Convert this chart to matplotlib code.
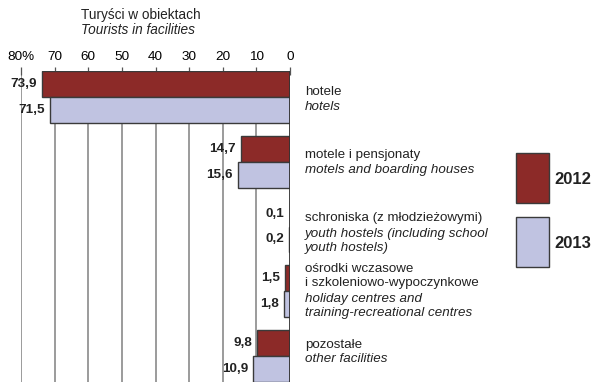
import matplotlib
matplotlib.use("Agg")
import matplotlib.pyplot as plt
import matplotlib.patches as mpatches
import numpy as np

plt.rcParams['font.family'] = ['Liberation Sans', 'DejaVu Sans']

categories_pl = [
    ["hotele"],
    ["motele i pensjonaty"],
    ["schroniska (z młodzieżowymi)"],
    ["ośrodki wczasowe", "i szkoleniowo-wypoczynkowe"],
    ["pozostałe"],
]
categories_en = [
    ["hotels"],
    ["motels and boarding houses"],
    ["youth hostels (including school", "youth hostels)"],
    ["holiday centres and", "training-recreational centres"],
    ["other facilities"],
]
series_names = ["2012", "2013"]
values_2012 = [73.9, 14.7, 0.1, 1.5, 9.8]
values_2013 = [71.5, 15.6, 0.2, 1.8, 10.9]
xticks = [80, 70, 60, 50, 40, 30, 20, 10, 0]
xtick_labels = ["80%", "70", "60", "50", "40", "30", "20", "10", "0"]

c2012 = "#8c2a28"
c2013 = "#c0c3e1"
edge = "#3a3a3a"

W, H = 595, 382
fig = plt.figure(figsize=(W / 100, H / 100), dpi=100)
ax = fig.add_axes([21 / W, 0, (290 - 21) / W, 1 - 71 / H])

n = len(values_2012)
y = np.arange(n)
bh = 0.4
ax.barh(y - bh / 2, values_2012, height=bh, color=c2012, edgecolor=edge, linewidth=1, zorder=3)
ax.barh(y + bh / 2, values_2013, height=bh, color=c2013, edgecolor=edge, linewidth=1, zorder=3)

ax.set_xlim(80, 0)
ax.set_ylim(n - 1 + 0.4, -0.4)

for xv in xticks[:-1]:
    ax.axvline(xv, color="#808080", lw=1.1, zorder=1)
ax.axvline(0, color="#333333", lw=1.3, zorder=4)

for s in ax.spines.values():
    s.set_visible(False)
ax.xaxis.tick_top()
ax.set_xticks(xticks)
ax.set_xticklabels(xtick_labels, fontsize=9.7)
ax.tick_params(axis='x', direction='inout', length=6, width=0.9, color="#555555", pad=3)
ax.set_yticks([])

def fmt(v):
    return f"{v:.1f}".replace(".", ",")

for i in range(n):
    for v, off in ((values_2012[i], -bh / 2), (values_2013[i], bh / 2)):
        ax.annotate(fmt(v), xy=(v, i + off), xytext=(-5, 0), textcoords="offset pixels",
                    ha="right", va="center", fontsize=9.7, fontweight="bold",
                    color="#222222", zorder=5, annotation_clip=False)

# category labels (pixel offsets of each line from group center)
line_offsets = [
    [-5, 10],
    [-7, 8],
    [-8, 7, 21],
    [-22, -8, 8, 22],
    [-11, 3],
]
for i in range(n):
    lines = [(t, "normal") for t in categories_pl[i]] + [(t, "italic") for t in categories_en[i]]
    for (txt, style), oy in zip(lines, line_offsets[i]):
        ax.annotate(txt, xy=(0, i), xytext=(15, -oy), textcoords="offset pixels",
                    ha="left", va="center", fontsize=9.6, style=style, color="#222222",
                    annotation_clip=False)

# header
fig.text(141 / W, 1 - 15 / H, "Turyści w obiektach", ha="center", va="center", fontsize=9.8, color="#222222")
fig.text(138 / W, 1 - 30 / H, "Tourists in facilities", ha="center", va="center", fontsize=9.8,
         style="italic", color="#222222")

# legend
for name, col, top in ((series_names[0], c2012, 153), (series_names[1], c2013, 217)):
    fig.patches.append(mpatches.Rectangle((516 / W, 1 - (top + 50) / H), 33 / W, 50 / H,
                                          transform=fig.transFigure, facecolor=col,
                                          edgecolor=edge, linewidth=1))
    fig.text(554 / W, 1 - (top + 27) / H, name, ha="left", va="center", fontsize=12,
             fontweight="bold", color="#222222")

fig.savefig("out.png", dpi=100)
